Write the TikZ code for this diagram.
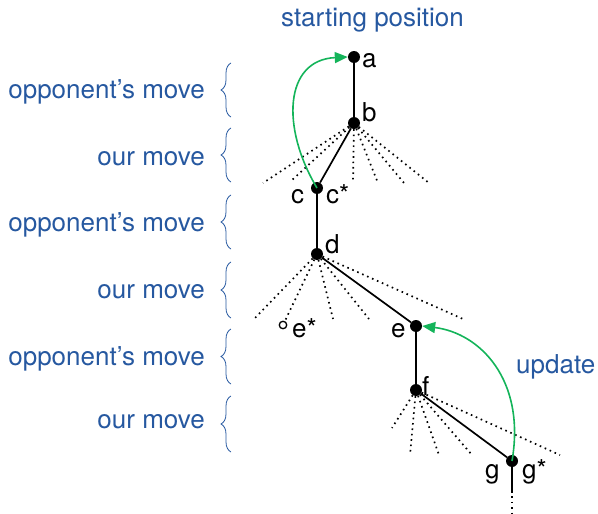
\documentclass[tikz,border=0pt]{standalone}
\usepackage{fontspec}
\setmainfont{TeX Gyre Heros}
\usetikzlibrary{arrows.meta,decorations.pathreplacing}
\definecolor{txtblue}{RGB}{38,88,160}
\definecolor{updgreen}{RGB}{20,180,90}
\begin{document}
\begin{tikzpicture}[x=1pt,y=-1pt,
  font=\fontsize{26}{30}\selectfont,
  dot/.style={circle,fill=black,inner sep=0pt,minimum size=12pt},
  hollow/.style={circle,draw=black,line width=1.3pt,fill=white,inner sep=0pt,minimum size=7.5pt},
  solidedge/.style={line width=1.7pt},
  dotedge/.style={line width=1.7pt,dash pattern=on 1.6pt off 3.8pt},
  upd/.style={updgreen,line width=1.6pt,-{Triangle[length=13pt,width=11pt]}},
  lbl/.style={anchor=base west,inner sep=0pt},
  side/.style={anchor=base east,inner sep=0pt,text=txtblue},
  brc/.style={txtblue,line width=0.8pt,decorate,decoration={brace,amplitude=10pt}}]
\useasboundingbox (0,0) rectangle (598,514);

% tree nodes
\node[dot] (a) at (354,57) {};
\node[dot] (b) at (354,123) {};
\node[dot] (c) at (317,188) {};
\node[dot] (d) at (317,254) {};
\node[dot] (e) at (416,326) {};
\node[dot] (f) at (416,390) {};
\node[dot] (g) at (512,461) {};
\node[hollow] (es) at (283,325) {};
\coordinate (g1) at (512,491);
\coordinate (g2) at (512,514);

% dotted ends
\coordinate (b1) at (263,183);
\coordinate (b2) at (291,181);
\coordinate (b3) at (353,183);
\coordinate (b4) at (378,183);
\coordinate (b5) at (404,183);
\coordinate (b6) at (429,183);
\coordinate (d1) at (255,318);
\coordinate (d2) at (333,319);
\coordinate (d3) at (369,319);
\coordinate (d4) at (463,319);
\coordinate (f1) at (392,428);
\coordinate (f2) at (410,455);
\coordinate (f3) at (439,455);
\coordinate (f4) at (472,455);
\coordinate (f5) at (560,455);

% solid edges
\draw[solidedge] (a) -- (b) -- (c) -- (d) -- (e) -- (f) -- (g) -- (g1);
% dotted edges
\foreach \t in {b1,b2,b3,b4,b5,b6} \draw[dotedge] (b) -- (\t);
\foreach \t in {d1,d2,d3,d4} \draw[dotedge] (d) -- (\t);
\draw[dotedge] (d) -- (es);
\foreach \t in {f1,f2,f3,f4,f5} \draw[dotedge] (f) -- (\t);
\draw[dotedge] (g1) -- (g2);

% update arrows
\draw[upd] (c.center) .. controls (281,128) and (284,60) .. (a.west);
\draw[upd] (g.center) .. controls (526,380) and (480,333) .. (e.east);

% node labels
\node[lbl] (la) at (362,67) {a};
\node[lbl] (lb) at (362,121) {b};
\node[lbl] (lc) at (291,203) {c};
\node[lbl] (lcs) at (326,203) {c*};
\node[lbl] (ld) at (325,253) {d};
\node[lbl] (les) at (292,337) {e*};
\node[lbl] (le) at (391,337) {e};
\node[lbl] (lf) at (422,395) {f};
\node[lbl] (lg) at (485,478) {g};
\node[lbl] (lgs) at (522,478) {g*};

% captions
\node[anchor=base,inner sep=0pt,text=txtblue] (start) at (372.5,27) {starting position};
\node[anchor=base west,inner sep=0pt,text=txtblue] (update) at (516,373) {update};

% side labels
\node[side] (m1) at (205,98) {opponent’s move};
\node[side] (m2) at (205,165) {our move};
\node[side] (m3) at (205,231) {opponent’s move};
\node[side] (m4) at (205,298) {our move};
\node[side] (m5) at (205,365) {opponent’s move};
\node[side] (m6) at (205,428) {our move};

% braces
\draw[brc] (231,117) -- (231,63);
\draw[brc] (231,182) -- (231,128);
\draw[brc] (231,249) -- (231,195);
\draw[brc] (231,318) -- (231,262);
\draw[brc] (231,384) -- (231,329);
\draw[brc] (231,452) -- (231,396);
\end{tikzpicture}
\end{document}
